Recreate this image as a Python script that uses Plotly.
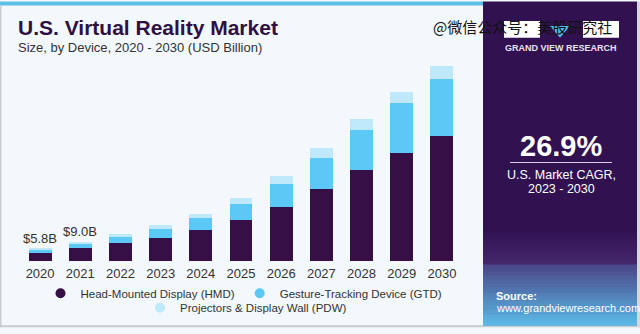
import plotly.graph_objects as go

years = ["2020", "2021", "2022", "2023", "2024", "2025", "2026", "2027", "2028", "2029", "2030"]
hmd = [3.7, 5.85, 8.3, 10.9, 14.4, 19.1, 25.3, 33.6, 42.4, 50.6, 58.3]
gtd = [1.8, 1.95, 3.0, 4.2, 5.5, 7.6, 10.7, 14.5, 18.8, 23.0, 26.7]
pdw = [0.3, 1.2, 1.5, 1.7, 2.1, 2.5, 3.5, 4.5, 5.0, 5.5, 5.9]
labels = {"2020": "$5.8B", "2021": "$9.0B"}

names = ["Head-Mounted Display (HMD)", "Gesture-Tracking Device (GTD)", "Projectors & Display Wall (PDW)"]
colors = ["#360f46", "#5bc8f5", "#bfe9fb"]

W, H = 640, 334
L, R, T, B = 20, 178, 64, 68
PW, PH = W - L - R, H - T - B

def px(x):
    return (x - L) / PW

def py(y):
    return (H - B - y) / PH

fig = go.Figure()
for vals, nm, c in zip([hmd, gtd, pdw], names, colors):
    fig.add_trace(go.Bar(x=years, y=vals, name=nm, marker=dict(color=c, line=dict(width=0)),
                         showlegend=False))
# legend entries with round markers
for i, (nm, c) in enumerate(zip(names, colors)):
    fig.add_trace(go.Scatter(x=[None], y=[None], mode="markers", name=nm,
                             marker=dict(color=c, size=10, symbol="circle"),
                             legend="legend" if i < 2 else "legend2"))

totals = [a + b + c for a, b, c in zip(hmd, gtd, pdw)]
annotations = []
for i, (yr, tot) in enumerate(zip(years, totals)):
    if yr in labels:
        annotations.append(dict(x=i, y=tot, xref="x", yref="y", text=labels[yr], showarrow=False,
                                yshift=10, font=dict(size=13, color="#333333")))

shapes = []
# background
shapes.append(dict(type="rect", xref="paper", yref="paper", x0=px(0), x1=px(640), y0=py(334), y1=py(0),
                   fillcolor="#f2f8fc", line=dict(width=0), layer="below"))
# top stripe
shapes.append(dict(type="rect", xref="paper", yref="paper", x0=px(0), x1=px(483), y0=py(4), y1=py(0),
                   fillcolor="#5cc0e8", line=dict(width=0), layer="below"))
# borders
shapes.append(dict(type="rect", xref="paper", yref="paper", x0=px(0), x1=px(1.5), y0=py(334), y1=py(4),
                   fillcolor="#c8cdd2", line=dict(width=0), layer="below"))
shapes.append(dict(type="rect", xref="paper", yref="paper", x0=px(0), x1=px(640), y0=py(334), y1=py(332),
                   fillcolor="#c8cdd2", line=dict(width=0), layer="below"))
shapes.append(dict(type="rect", xref="paper", yref="paper", x0=px(637), x1=px(640), y0=py(334), y1=py(0),
                   fillcolor="#d5d8dc", line=dict(width=0), layer="below"))
# right panel
shapes.append(dict(type="rect", xref="paper", yref="paper", x0=px(483), x1=px(637), y0=py(332), y1=py(0),
                   fillcolor="#311150", line=dict(width=0), layer="below"))
# gradient at panel bottom
def lerp(c1, c2, t):
    return "#%02x%02x%02x" % tuple(int(round(a + (b - a) * t)) for a, b in zip(c1, c2))
steps = 40
y_start, y_end = 232, 332
for i in range(steps):
    t = i / (steps - 1)
    y0 = y_start + (y_end - y_start) * i / steps
    y1 = y_start + (y_end - y_start) * (i + 1) / steps
    if t < 0.38:
        c = lerp((49, 17, 80), (70, 40, 110), t / 0.38)
    else:
        c = lerp((75, 70, 135), (90, 185, 230), (t - 0.38) / 0.62)
    shapes.append(dict(type="rect", xref="paper", yref="paper", x0=px(483), x1=px(637), y0=py(y1 + 0.5), y1=py(y0),
                       fillcolor=c, line=dict(width=0), layer="below"))
# CAGR divider line
shapes.append(dict(type="line", xref="paper", yref="paper", x0=px(510), x1=px(612), y0=py(165), y1=py(165),
                   line=dict(color="#d8d0e0", width=1)))
# logo boxes
shapes.append(dict(type="rect", xref="paper", yref="paper", x0=px(504), x1=px(540), y0=py(37), y1=py(20),
                   fillcolor="#ffffff", line=dict(width=0)))
shapes.append(dict(type="rect", xref="paper", yref="paper", x0=px(583), x1=px(619), y0=py(37), y1=py(20),
                   fillcolor="#ffffff", line=dict(width=0)))
shapes.append(dict(type="path", xref="paper", yref="paper",
                   path="M %f %f L %f %f L %f %f Z" % (px(550), py(25), px(570), py(25), px(560), py(37)),
                   fillcolor="#4fb8e8", line=dict(width=0)))

def txt(x, y, s, size, color, bold=False, xanchor="left", family="Liberation Sans, Arial, sans-serif"):
    annotations.append(dict(x=px(x), y=py(y), xref="paper", yref="paper", text=("<b>%s</b>" % s) if bold else s,
                            showarrow=False, xanchor=xanchor, yanchor="middle",
                            font=dict(size=size, color=color, family=family)))

txt(16, 27, "U.S. Virtual Reality Market", 21, "#2e1043", bold=True)
txt(16, 47, "Size, by Device, 2020 - 2030 (USD Billion)", 13, "#333333")
txt(561, 48, "GRAND VIEW RESEARCH", 9, "#e6e2ec", bold=True, xanchor="center")
txt(561, 148, "26.9%", 29, "#ffffff", bold=True, xanchor="center")
txt(561, 178, "U.S. Market CAGR,", 12.5, "#ffffff", xanchor="center")
txt(561, 192, "2023 - 2030", 12.5, "#ffffff", xanchor="center")
txt(494, 302, "Source:", 11, "#ffffff", bold=True)
txt(494, 314, "www.grandviewresearch.com", 11, "#ffffff")
txt(431, 26, "@微信公众号：美股研究社", 15, "#111111", family="Noto Sans CJK SC")

fig.update_layout(
    width=W, height=H, margin=dict(l=L, r=R, t=T, b=B),
    paper_bgcolor="#f2f8fc", plot_bgcolor="rgba(0,0,0,0)",
    barmode="stack", bargap=0.43,
    font=dict(family="Liberation Sans, Arial, sans-serif", color="#333333"),
    xaxis=dict(type="category", range=[-0.5, 10.5], showgrid=False, showline=False, zeroline=False,
               tickfont=dict(size=13, color="#333333"), ticks="", ticklabelstandoff=3),
    yaxis=dict(range=[0, 92], visible=False),
    legend=dict(orientation="h", x=px(244), y=py(299), xanchor="center", yanchor="middle",
                font=dict(size=11.5, color="#333333"), bgcolor="rgba(0,0,0,0)", itemwidth=30,
                traceorder="normal"),
    legend2=dict(orientation="h", x=px(246), y=py(314), xanchor="center", yanchor="middle",
                 font=dict(size=11.5, color="#333333"), bgcolor="rgba(0,0,0,0)", itemwidth=30),
    shapes=shapes, annotations=annotations,
)

fig.write_html("out.html")
